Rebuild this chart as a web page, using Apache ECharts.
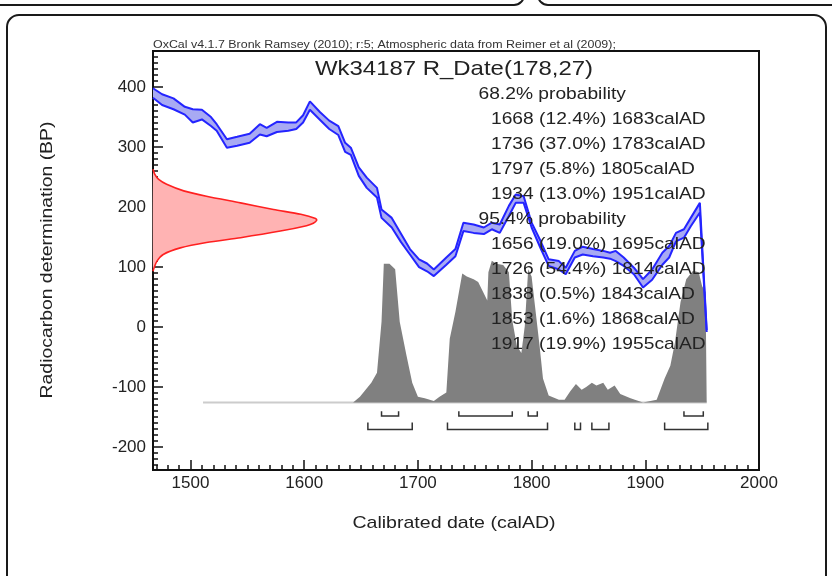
<!DOCTYPE html>
<html>
<head>
<meta charset="utf-8">
<title>Wk34187 R_Date(178,27)</title>
<script src="https://cdn.jsdelivr.net/npm/echarts@6/dist/echarts.min.js"></script>
<style>
  html, body { margin: 0; padding: 0; background: #fff; }
  #chart { width: 832px; height: 576px; }
</style>
</head>
<body>
<div id="chart"></div>
<script>
// calibration curve band (upper / lower edge, BP)
const curveYears = [1467, 1475, 1485, 1495, 1502, 1510, 1518, 1523, 1532, 1541, 1552, 1561, 1567, 1576, 1586,
  1593, 1599, 1605, 1614, 1622, 1630, 1636, 1641, 1648, 1655, 1664, 1668, 1677, 1685, 1693,
  1701, 1708, 1714, 1725, 1733, 1740, 1749, 1758, 1765, 1772, 1780, 1786, 1793, 1800, 1808,
  1815, 1824, 1830, 1838, 1845, 1854, 1863, 1869, 1874, 1881, 1890, 1898, 1906, 1915, 1921,
  1927, 1934, 1940, 1948, 1954];
const curveHigh = [398, 388, 381, 367, 363, 362, 350, 338, 313, 317, 322, 338, 332, 342, 341,
  341, 353, 376, 358, 344, 335, 307, 299, 266, 249, 232, 196, 182, 156, 130,
  113, 106, 96, 116, 130, 174, 171, 166, 174, 171, 202, 221, 218, 174, 143,
  113, 110, 99, 127, 134, 130, 127, 124, 127, 116, 99, 80, 96, 124, 135,
  157, 163, 182, 207, -5];
const curveLow = [382, 370, 363, 354, 341, 346, 335, 327, 299, 302, 307, 321, 318, 325, 327,
  330, 341, 362, 345, 330, 320, 292, 287, 252, 232, 216, 182, 166, 142, 121,
  100, 93, 85, 104, 118, 160, 157, 155, 163, 157, 185, 207, 207, 166, 131,
  102, 96, 88, 116, 121, 118, 116, 114, 110, 102, 88, 66, 79, 104, 116,
  143, 149, 168, 191, -8];

// radiocarbon date 178 +/- 27 (width in years from the left axis)
const dateBP = [263, 255, 246, 238, 227, 218, 207, 196, 188, 181, 178, 173, 169, 160, 149, 141, 132, 121, 110, 99, 93];
const dateWidth = [0, 1.5, 5, 12, 27, 47, 77, 106, 130, 143, 144, 141, 135, 112, 77, 47, 24, 9, 3.5, 1, 0];

// calibrated probability (relative to peak)
const calYears = [1643, 1649, 1659, 1664, 1668, 1670, 1675, 1680, 1684, 1690, 1695, 1700, 1706, 1714, 1719,
  1725, 1728, 1733, 1739, 1743, 1749, 1753, 1758, 1761, 1762, 1765, 1769, 1775, 1780, 1783,
  1787, 1791, 1794, 1797, 1800, 1803, 1807, 1810, 1815, 1824, 1829, 1834, 1839, 1844, 1848,
  1853, 1857, 1863, 1867, 1873, 1878, 1887, 1898, 1910, 1917, 1922, 1926, 1931, 1936, 1942,
  1947, 1950, 1953, 1954];
const calProb = [0.00, 0.04, 0.14, 0.21, 0.57, 0.98, 0.98, 0.94, 0.57, 0.33, 0.14, 0.04, 0.03, 0.01, 0.04,
  0.07, 0.45, 0.64, 0.91, 0.89, 0.87, 0.85, 0.77, 0.72, 0.92, 1.00, 0.98, 0.97, 0.92, 0.58,
  0.40, 0.35, 0.54, 0.94, 0.89, 0.68, 0.40, 0.17, 0.05, 0.02, 0.02, 0.08, 0.13, 0.09, 0.11,
  0.14, 0.12, 0.14, 0.09, 0.12, 0.06, 0.03, 0.00, 0.02, 0.17, 0.26, 0.42, 0.71, 0.87, 0.93,
  0.92, 0.82, 0.78, 0.00];
const calRange = [1511, 1954];

// probability ranges
const range68 = [[1668, 1683], [1736, 1783], [1797, 1805], [1934, 1951]];
const pct68 = [12.4, 37.0, 5.8, 13.0];
const range95 = [[1656, 1695], [1726, 1814], [1838, 1843], [1853, 1868], [1917, 1955]];
const pct95 = [19.0, 54.4, 0.5, 1.6, 19.9];

const xTicks = [1500, 1600, 1700, 1800, 1900, 2000];
const yTicks = [-200, -100, 0, 100, 200, 300, 400];

const X_MIN = 1467, X_MAX = 2000, Y_MIN = -238, Y_MAX = 460;
const CAL_BASE = -125.5, CAL_HEIGHT = 236;
const FONT = 'Liberation Sans, Arial, sans-serif';

const xMinor = [];
for (let v = 1470; v <= 2000; v += 10) xMinor.push(v);
const yMinor = [];
for (let v = -230; v <= 460; v += 10) yMinor.push(v);

const chart = echarts.init(document.getElementById('chart'));

// probability text block
const textLines = [];
function addBlock(head, ranges, pcts) {
  textLines.push({ text: head, indent: false });
  ranges.forEach(function (r, i) {
    textLines.push({ text: r[0] + ' (' + pcts[i].toFixed(1) + '%) ' + r[1] + 'calAD', indent: true });
  });
}
addBlock('68.2% probability', range68, pct68);
addBlock('95.4% probability', range95, pct95);

const graphics = [
  // page panels
  { type: 'rect', shape: { x: -20, y: -40, width: 544, height: 45, r: 10 }, style: { fill: 'none', stroke: '#1a1a1a', lineWidth: 2 } },
  { type: 'rect', shape: { x: 538, y: -40, width: 330, height: 45, r: 10 }, style: { fill: 'none', stroke: '#1a1a1a', lineWidth: 2 } },
  { type: 'rect', shape: { x: 7, y: 15, width: 819, height: 620, r: 12 }, style: { fill: 'none', stroke: '#1a1a1a', lineWidth: 2 } },
  { type: 'text', x: 153, y: 45, scaleX: 1.13, z: 100,
    style: { text: 'OxCal v4.1.7 Bronk Ramsey (2010); r:5; Atmospheric data from Reimer et al (2009);', font: '11px ' + FONT, fill: '#333', verticalAlign: 'middle' } },
  { type: 'text', x: 454, y: 69.5, scaleX: 1.14, z: 100,
    style: { text: 'Wk34187 R_Date(178,27)', font: '21px ' + FONT, fill: '#222', align: 'center', verticalAlign: 'middle' } },
  { type: 'text', x: 454, y: 523, scaleX: 1.15, z: 100,
    style: { text: 'Calibrated date (calAD)', font: '17px ' + FONT, fill: '#222', align: 'center', verticalAlign: 'middle' } },
  { type: 'text', x: 47, y: 260, rotation: Math.PI / 2, scaleX: 1.14, z: 100,
    style: { text: 'Radiocarbon determination (BP)', font: '17px ' + FONT, fill: '#222', align: 'center', verticalAlign: 'middle' } }
];
textLines.forEach(function (l, i) {
  graphics.push({
    type: 'text', x: l.indent ? 491 : 478.5, y: 94 + i * 25, scaleX: 1.13, z: 100,
    style: { text: l.text, font: '17px ' + FONT, fill: '#222', verticalAlign: 'middle' }
  });
});

function calItem(params, api) {
  const pts = [api.coord([calYears[0], CAL_BASE])];
  for (let i = 0; i < calYears.length; i++) {
    pts.push(api.coord([calYears[i], CAL_BASE + calProb[i] * CAL_HEIGHT]));
  }
  pts.push(api.coord([calYears[calYears.length - 1], CAL_BASE]));
  const a = api.coord([calRange[0], CAL_BASE]);
  const b = api.coord([calRange[1], CAL_BASE]);
  return {
    type: 'group',
    children: [
      { type: 'line', shape: { x1: a[0], y1: a[1], x2: b[0], y2: b[1] }, style: { stroke: '#cccccc', lineWidth: 2 } },
      { type: 'polygon', shape: { points: pts }, style: { fill: '#808080' } }
    ]
  };
}

function dateItem(params, api) {
  const pts = [];
  for (let i = 0; i < dateBP.length; i++) {
    pts.push(api.coord([X_MIN + dateWidth[i], dateBP[i]]));
  }
  return {
    type: 'group',
    children: [
      { type: 'polygon', shape: { points: pts, smooth: 0.25 }, style: { fill: '#ffb3b3' } },
      { type: 'polyline', shape: { points: pts, smooth: 0.25 }, style: { stroke: '#ff2020', lineWidth: 1.6, fill: 'none' } }
    ]
  };
}

function bandItem(params, api) {
  const top = [], bot = [];
  for (let i = 0; i < curveYears.length; i++) {
    top.push(api.coord([curveYears[i], curveHigh[i]]));
    bot.unshift(api.coord([curveYears[i], curveLow[i]]));
  }
  return { type: 'polygon', shape: { points: top.concat(bot) }, style: { fill: '#a8aaf3' } };
}

const bracketData = range68.map(function (r) { return [r[0], r[1], 0]; })
  .concat(range95.map(function (r) { return [r[0], r[1], 1]; }));
function bracketItem(params, api) {
  const row = api.value(2);
  const top = row === 0 ? -140 : -159;
  const bot = row === 0 ? -148 : -170.5;
  const pts = [
    api.coord([api.value(0), top]), api.coord([api.value(0), bot]),
    api.coord([api.value(1), bot]), api.coord([api.value(1), top])
  ];
  return { type: 'polyline', shape: { points: pts }, style: { stroke: '#333', lineWidth: 1.5, fill: 'none' } };
}

function plain(v) { return String(v); }

const tickStyle = { color: '#111', width: 1.5 };
const option = {
  animation: false,
  backgroundColor: '#fff',
  grid: { left: 153, right: 73, top: 51, bottom: 106, show: true, borderColor: '#111', borderWidth: 2, backgroundColor: 'transparent' },
  xAxis: [
    {
      type: 'value', min: X_MIN, max: X_MAX, position: 'bottom',
      axisLine: { onZero: false, lineStyle: { color: '#111', width: 2 } },
      axisTick: { inside: true, length: 10, customValues: xTicks, lineStyle: tickStyle },
      axisLabel: { customValues: xTicks, formatter: plain, color: '#222', fontSize: 17, fontFamily: FONT, margin: 5 },
      splitLine: { show: false }
    },
    {
      type: 'value', min: X_MIN, max: X_MAX, position: 'bottom',
      axisLine: { show: false, onZero: false },
      axisTick: { inside: true, length: 5, customValues: xMinor, lineStyle: tickStyle },
      axisLabel: { show: false },
      splitLine: { show: false }
    }
  ],
  yAxis: [
    {
      type: 'value', min: Y_MIN, max: Y_MAX, position: 'left',
      axisLine: { onZero: false, lineStyle: { color: '#111', width: 2 } },
      axisTick: { inside: true, length: 10, customValues: yTicks, lineStyle: tickStyle },
      axisLabel: { customValues: yTicks, formatter: plain, color: '#222', fontSize: 17, fontFamily: FONT, margin: 7 },
      splitLine: { show: false }
    },
    {
      type: 'value', min: Y_MIN, max: Y_MAX, position: 'left',
      axisLine: { show: false, onZero: false },
      axisTick: { inside: true, length: 5, customValues: yMinor, lineStyle: tickStyle },
      axisLabel: { show: false },
      splitLine: { show: false }
    }
  ],
  graphic: graphics,
  series: [
    { type: 'custom', name: 'calibrated', data: [[1700, 0]], renderItem: calItem, z: 1, silent: true },
    { type: 'custom', name: 'R_Date', data: [[1500, 178]], renderItem: dateItem, z: 2, silent: true },
    { type: 'custom', name: 'band', data: [[1700, 200]], renderItem: bandItem, z: 3, silent: true },
    {
      type: 'line', name: 'upper', data: curveYears.map(function (y, i) { return [y, curveHigh[i]]; }),
      symbol: 'none', lineStyle: { color: '#2424ff', width: 2 }, z: 4, silent: true
    },
    {
      type: 'line', name: 'lower', data: curveYears.map(function (y, i) { return [y, curveLow[i]]; }),
      symbol: 'none', lineStyle: { color: '#2424ff', width: 2 }, z: 4, silent: true
    },
    { type: 'custom', name: 'ranges', data: bracketData, encode: { x: [0, 1], y: 2 }, renderItem: bracketItem, z: 4, silent: true }
  ]
};
chart.setOption(option);
</script>
</body>
</html>
